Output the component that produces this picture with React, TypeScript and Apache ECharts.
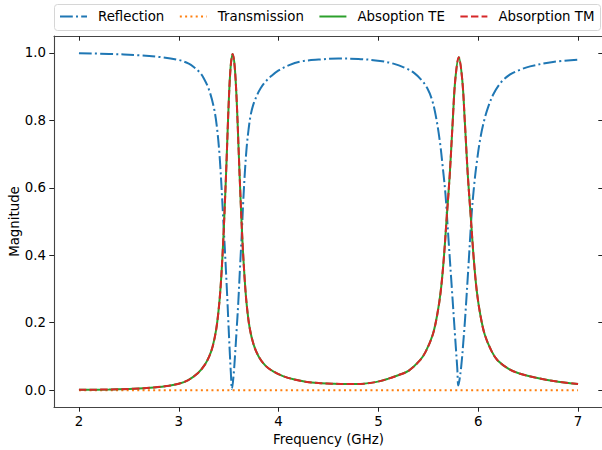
import React, { useEffect, useRef } from "react";
import * as echarts from "echarts";

// Frequency grid (GHz) for the absorption curves
const freqAbs = [
  2.0, 2.3, 2.55, 2.75, 2.9, 3.0, 3.09, 3.19, 3.26, 3.305, 3.34, 3.375, 3.4, 3.42, 3.44, 3.46, 3.48, 3.5, 3.52,
  3.54, 3.56, 3.58, 3.6, 3.62, 3.64, 3.66, 3.68, 3.71, 3.75, 3.8, 3.87, 3.95, 4.05, 4.15, 4.27, 4.4, 4.55, 4.7,
  4.85, 5.005, 5.1, 5.205, 5.305, 5.415, 5.475, 5.545, 5.59, 5.625, 5.655, 5.685, 5.715, 5.745, 5.77, 5.805,
  5.84, 5.865, 5.895, 5.925, 5.955, 5.985, 6.02, 6.065, 6.135, 6.195, 6.305, 6.405, 6.605, 6.8, 7.0,
];
const absorptionTE = [
  0.001, 0.002, 0.004, 0.008, 0.013, 0.019, 0.029, 0.05, 0.075, 0.1, 0.13, 0.18, 0.24, 0.31, 0.41, 0.54, 0.69,
  0.85, 0.96, 0.997, 0.96, 0.86, 0.71, 0.56, 0.43, 0.33, 0.255, 0.185, 0.135, 0.1, 0.072, 0.055, 0.041, 0.032,
  0.025, 0.021, 0.019, 0.018, 0.019, 0.026, 0.034, 0.045, 0.058, 0.088, 0.115, 0.165, 0.225, 0.295, 0.39,
  0.515, 0.64, 0.8, 0.92, 0.987, 0.92, 0.8, 0.64, 0.515, 0.39, 0.295, 0.225, 0.165, 0.115, 0.088, 0.063, 0.05,
  0.035, 0.025, 0.018,
];
const absorptionTM = [
  0.001, 0.002, 0.004, 0.008, 0.013, 0.019, 0.029, 0.05, 0.075, 0.1, 0.13, 0.18, 0.24, 0.31, 0.41, 0.54, 0.69,
  0.85, 0.96, 0.997, 0.96, 0.86, 0.71, 0.56, 0.43, 0.33, 0.255, 0.185, 0.135, 0.1, 0.072, 0.055, 0.041, 0.032,
  0.025, 0.021, 0.019, 0.018, 0.019, 0.026, 0.034, 0.045, 0.058, 0.088, 0.115, 0.165, 0.225, 0.295, 0.39,
  0.515, 0.64, 0.8, 0.92, 0.987, 0.92, 0.8, 0.64, 0.515, 0.39, 0.295, 0.225, 0.165, 0.115, 0.088, 0.063, 0.05,
  0.035, 0.025, 0.018,
];

// Reflection curve
const freqRef = [
  2.0, 2.3, 2.6, 2.8, 3.0, 3.1, 3.15, 3.21, 3.25, 3.3, 3.35, 3.38, 3.41, 3.445, 3.48, 3.508, 3.522, 3.533,
  3.548, 3.563, 3.58, 3.596, 3.613, 3.63, 3.646, 3.663, 3.68, 3.7, 3.72, 3.745, 3.78, 3.82, 3.87, 3.93, 4.0,
  4.1, 4.214, 4.4, 4.6, 4.8, 5.016, 5.15, 5.27, 5.36, 5.43, 5.49, 5.54, 5.58, 5.617, 5.645, 5.672, 5.7,
  5.734, 5.768, 5.79, 5.8, 5.812, 5.83, 5.85, 5.868, 5.9, 5.935, 5.96, 5.985, 6.02, 6.06, 6.1, 6.153, 6.23,
  6.32, 6.42, 6.52, 6.75, 7.0,
];
const reflection = [
  0.999, 0.997, 0.993, 0.988, 0.979, 0.968, 0.958, 0.942, 0.925, 0.893, 0.84, 0.785, 0.69, 0.51, 0.31, 0.13,
  0.05, 0.003, 0.04, 0.1, 0.18, 0.259, 0.36, 0.457, 0.56, 0.65, 0.72, 0.775, 0.815, 0.845, 0.872, 0.895,
  0.915, 0.932, 0.948, 0.963, 0.974, 0.98, 0.983, 0.982, 0.976, 0.968, 0.955, 0.94, 0.92, 0.895, 0.858,
  0.805, 0.734, 0.66, 0.58, 0.457, 0.309, 0.16, 0.065, 0.014, 0.03, 0.071, 0.14, 0.21, 0.358, 0.526, 0.61,
  0.674, 0.745, 0.8, 0.84, 0.878, 0.913, 0.936, 0.95, 0.96, 0.973, 0.98,
];

// Transmission curve
const freqTrans = [2.0, 3.0, 4.0, 5.0, 6.0, 7.0];
const transmission = [0, 0, 0, 0, 0, 0];

const xTicks = [2, 3, 4, 5, 6, 7];
const yTicks = [0, 0.2, 0.4, 0.6, 0.8, 1.0];

const pairs = (xs: number[], ys: number[]) => xs.map((x, i) => [x, ys[i]]);

const FONT = "DejaVu Sans";
const FS = 13.33;

export default function App() {
  const ref = useRef<HTMLDivElement>(null);
  useEffect(() => {
    document.body.style.margin = "0";
    const chart = echarts.init(ref.current!, undefined, { renderer: "svg" });
    const spine = { show: true, onZero: false, lineStyle: { color: "#444", width: 1.1 } };
    chart.setOption({
      animation: false,
      backgroundColor: "#fff",
      textStyle: { fontFamily: FONT },
      grid: { left: 54, top: 36, width: 549, height: 371, containLabel: false, outerBoundsMode: "none" },
      graphic: [
        {
          type: "rect",
          z: 1,
          shape: { x: 54.5, y: 4.5, width: 546, height: 26, r: 3 },
          style: { fill: "rgba(255,255,255,0.8)", stroke: "#d6d6d6", lineWidth: 1 },
        },
      ],
      legend: {
        left: 59,
        top: 10,
        itemWidth: 27,
        itemHeight: 14,
        itemGap: 14.5,
        padding: 0,
        itemStyle: { opacity: 0 },
        textStyle: { fontFamily: FONT, fontSize: FS, color: "#000", padding: [0, 0, 0, 6] },
        data: ["Reflection", "Transmission", "Absoption TE", "Absorption TM"],
      },
      xAxis: [
        {
          type: "value",
          min: 1.75,
          max: 7.25,
          position: "bottom",
          name: "Frequency (GHz)",
          nameLocation: "middle",
          nameGap: 23,
          nameTextStyle: { fontFamily: FONT, fontSize: FS, color: "#000" },
          axisLine: spine,
          axisTick: { show: true, length: 4.7, lineStyle: { color: "#222" }, customValues: xTicks },
          axisLabel: {
            fontFamily: FONT,
            fontSize: FS,
            color: "#000",
            margin: 8,
            customValues: xTicks,
            formatter: (v: number) => String(v),
          },
          splitLine: { show: false },
        },
        {
          type: "value",
          min: 1.75,
          max: 7.25,
          position: "top",
          axisLine: spine,
          axisTick: { show: true, inside: true, length: 4.7, lineStyle: { color: "#222" }, customValues: xTicks },
          axisLabel: { show: false },
          splitLine: { show: false },
        },
      ],
      yAxis: [
        {
          type: "value",
          min: -0.05,
          max: 1.05,
          position: "left",
          name: "Magnitude",
          nameLocation: "middle",
          nameGap: 33,
          nameMoveOverlap: false,
          nameRotate: 90,
          nameTextStyle: { fontFamily: FONT, fontSize: FS, color: "#000" },
          axisLine: spine,
          axisTick: { show: true, length: 4.7, lineStyle: { color: "#222" }, customValues: yTicks },
          axisLabel: {
            fontFamily: FONT,
            fontSize: FS,
            color: "#000",
            margin: 8,
            customValues: yTicks,
            formatter: (v: number) => v.toFixed(1),
          },
          splitLine: { show: false },
        },
        {
          type: "value",
          min: -0.05,
          max: 1.05,
          position: "right",
          axisLine: spine,
          axisTick: { show: true, inside: true, length: 4.7, lineStyle: { color: "#222" }, customValues: yTicks },
          axisLabel: { show: false },
          splitLine: { show: false },
        },
      ],
      series: [
        {
          name: "Reflection",
          type: "line",
          data: pairs(freqRef, reflection),
          symbol: "none",
          smooth: 0.35,
          color: "#1f77b4",
          lineStyle: { color: "#1f77b4", width: 2, type: [12.8, 3.2, 2, 3.2] },
          z: 3,
        },
        {
          name: "Transmission",
          type: "line",
          data: pairs(freqTrans, transmission),
          symbol: "none",
          color: "#ff7f0e",
          lineStyle: { color: "#ff7f0e", width: 2, type: [2, 3.3] },
          z: 3,
        },
        {
          name: "Absoption TE",
          type: "line",
          data: pairs(freqAbs, absorptionTE),
          symbol: "none",
          smooth: 0.35,
          color: "#2ca02c",
          lineStyle: { color: "#2ca02c", width: 2, type: "solid" },
          z: 3,
        },
        {
          name: "Absorption TM",
          type: "line",
          data: pairs(freqAbs, absorptionTM),
          symbol: "none",
          smooth: 0.35,
          color: "#d62728",
          lineStyle: { color: "#d62728", width: 2, type: [7.4, 3.2] },
          z: 3,
        },
      ],
    });
    return () => chart.dispose();
  }, []);
  return <div ref={ref} style={{ width: 602, height: 450 }} />;
}
